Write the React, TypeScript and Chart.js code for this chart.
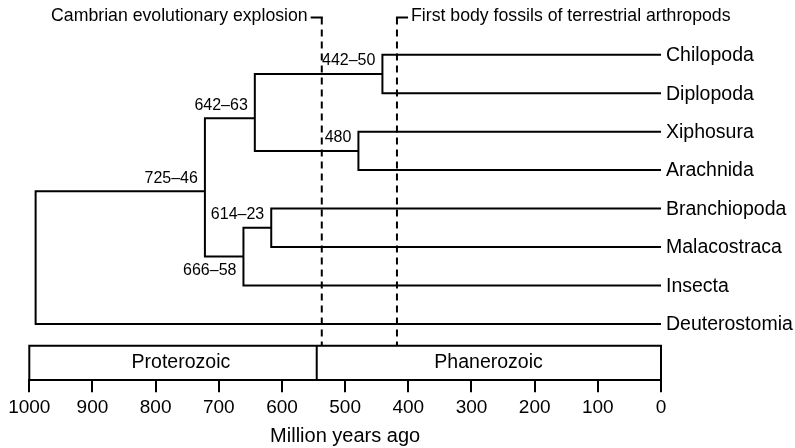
import React, { useEffect, useRef } from 'react';
import { Chart, registerables } from 'chart.js';

Chart.register(...registerables);

// ---------- data ----------
const taxa = ['Chilopoda', 'Diplopoda', 'Xiphosura', 'Arachnida', 'Branchiopoda', 'Malacostraca', 'Insecta', 'Deuterostomia'];
const taxonRows = [0, 1, 2, 3, 4, 5, 6, 7];

const nodeIds = ['A', 'B', 'C', 'D', 'E', 'F', 'R'];
const nodeAges = [441, 479, 643, 617, 661, 722, 990];
const nodeRows = [0.5, 2.5, 1.65, 4.5, 5.25, 3.55, 5.3];
const nodeChildren = [
  ['Chilopoda', 'Diplopoda'],
  ['Xiphosura', 'Arachnida'],
  ['A', 'B'],
  ['Branchiopoda', 'Malacostraca'],
  ['D', 'Insecta'],
  ['C', 'E'],
  ['F', 'Deuterostomia'],
];
const nodeLabels = ['442–50', '480', '642–63', '614–23', '666–58', '725–46', ''];
const nodeLabelSide = ['above', 'above', 'above', 'above', 'below', 'above', ''];

const eventNames = ['Cambrian evolutionary explosion', 'First body fossils of terrestrial arthropods'];
const eventAges = [537, 418];
const eventTextSide = ['left', 'right'];

const eraNames = ['Proterozoic', 'Phanerozoic'];
const eraStarts = [1000, 545];
const eraEnds = [545, 0];
const eraLabelAges = [760, 273];

const xMin = 0;
const xMax = 1000;
const xStep = 100;
const xTitle = 'Million years ago';

// ---------- layout constants (styles) ----------
const FONT = '"Liberation Sans", Arial, Helvetica, sans-serif';
const Y_MIN = -1.424;
const Y_MAX = 8.464;
const EVENT_TOP_ROW = -0.97;
const BOX_TOP_ROW = 7.567;
const HOOK = 16;

function posOf(id: string) {
  const ti = taxa.indexOf(id);
  if (ti >= 0) return { x: 0, y: taxonRows[ti] };
  const ni = nodeIds.indexOf(id);
  return { x: nodeAges[ni], y: nodeRows[ni] };
}

const lineBase = {
  showLine: true,
  pointRadius: 0,
  pointHoverRadius: 0,
  borderColor: '#000',
  borderWidth: 2,
  fill: false,
  tension: 0,
  borderJoinStyle: 'miter' as const,
};

function buildDatasets() {
  const ds: any[] = [];
  nodeIds.forEach((id, i) => {
    const [c1, c2] = nodeChildren[i];
    const p1 = posOf(c1);
    const p2 = posOf(c2);
    ds.push({
      ...lineBase,
      label: id,
      data: [
        { x: p1.x, y: p1.y },
        { x: nodeAges[i], y: p1.y },
        { x: nodeAges[i], y: p2.y },
        { x: p2.x, y: p2.y },
      ],
    });
  });
  eventAges.forEach((age, i) => {
    const hookEnd = eventTextSide[i] === 'left' ? age + HOOK : age - HOOK;
    ds.push({
      ...lineBase,
      label: 'hook' + i,
      borderCapStyle: 'square',
      data: [
        { x: hookEnd, y: EVENT_TOP_ROW },
        { x: age, y: EVENT_TOP_ROW },
      ],
    });
    ds.push({
      ...lineBase,
      label: eventNames[i],
      borderDash: [7, 5],
      data: [
        { x: age, y: EVENT_TOP_ROW },
        { x: age, y: BOX_TOP_ROW },
      ],
    });
  });
  return ds;
}

const overlayPlugin = {
  id: 'overlay',
  afterDatasetsDraw(chart: any) {
    const { ctx, scales, chartArea } = chart;
    const x = scales.x;
    const y = scales.y;
    ctx.save();
    ctx.strokeStyle = '#000';
    ctx.lineWidth = 2;
    ctx.lineCap = 'butt';
    // era box
    const top = y.getPixelForValue(BOX_TOP_ROW);
    const bottom = chartArea.bottom;
    ctx.beginPath();
    ctx.moveTo(x.getPixelForValue(xMax) - 1, top);
    ctx.lineTo(x.getPixelForValue(xMin) + 1, top);
    const bounds = Array.from(new Set([...eraStarts, ...eraEnds]));
    bounds.forEach((b) => {
      const px = x.getPixelForValue(b);
      ctx.moveTo(px, top);
      ctx.lineTo(px, bottom);
    });
    ctx.stroke();

    ctx.fillStyle = '#000';
    // era labels
    ctx.font = `19.5px ${FONT}`;
    ctx.textAlign = 'center';
    ctx.textBaseline = 'middle';
    eraNames.forEach((n, i) => {
      ctx.fillText(n, x.getPixelForValue(eraLabelAges[i]), (top + bottom) / 2);
    });

    // leaf labels
    ctx.textAlign = 'left';
    taxa.forEach((t, i) => {
      ctx.fillText(t, x.getPixelForValue(0) + 5, y.getPixelForValue(taxonRows[i]) + 1);
    });

    // node labels
    ctx.font = `16px ${FONT}`;
    ctx.textAlign = 'right';
    nodeLabels.forEach((l, i) => {
      if (!l) return;
      const dy = nodeLabelSide[i] === 'below' ? 14 : -13;
      ctx.fillText(l, x.getPixelForValue(nodeAges[i]) - 7, y.getPixelForValue(nodeRows[i]) + dy);
    });

    // event labels
    ctx.font = `17.7px ${FONT}`;
    eventNames.forEach((n, i) => {
      const left = eventTextSide[i] === 'left';
      const hookEnd = left ? eventAges[i] + HOOK : eventAges[i] - HOOK;
      ctx.textAlign = left ? 'right' : 'left';
      ctx.fillText(n, x.getPixelForValue(hookEnd) + (left ? -4 : 4), y.getPixelForValue(EVENT_TOP_ROW) - 1);
    });
    ctx.restore();
  },
};

export default function App() {
  const ref = useRef<HTMLCanvasElement | null>(null);
  useEffect(() => {
    if (!ref.current) return;
    Chart.defaults.font.family = FONT;
    Chart.defaults.color = '#000';
    const chart = new Chart(ref.current, {
      type: 'scatter',
      data: { datasets: buildDatasets() },
      options: {
        responsive: false,
        maintainAspectRatio: false,
        animation: false,
        events: [],
        layout: { padding: { left: 29.3, right: 134, top: 0, bottom: 0 } },
        plugins: { legend: { display: false }, tooltip: { enabled: false }, title: { display: false } },
        scales: {
          x: {
            type: 'linear',
            reverse: true,
            min: xMin,
            max: xMax,
            position: 'bottom',
            border: { display: true, color: '#000', width: 2 },
            grid: {
              display: true,
              drawOnChartArea: false,
              drawTicks: true,
              tickLength: 12,
              color: '#000',
              lineWidth: 2,
              tickColor: '#000',
              tickWidth: 2,
            },
            ticks: {
              stepSize: xStep,
              color: '#000',
              font: { size: 19, family: FONT },
              padding: 4,
              maxRotation: 0,
              autoSkip: false,
              callback: (v: any) => String(v),
            },
            title: {
              display: true,
              text: xTitle,
              color: '#000',
              font: { size: 20, family: FONT },
              padding: { top: 1, bottom: 0 },
            },
          },
          y: {
            type: 'linear',
            display: false,
            reverse: true,
            min: Y_MIN,
            max: Y_MAX,
          },
        },
      },
      plugins: [overlayPlugin],
    });
    return () => chart.destroy();
  }, []);
  return (
    <div style={{ position: 'absolute', left: 0, top: 0, width: 795, height: 448, background: '#fff' }}>
      <canvas ref={ref} width={795} height={448} style={{ display: 'block', width: 795, height: 448 }} />
    </div>
  );
}
